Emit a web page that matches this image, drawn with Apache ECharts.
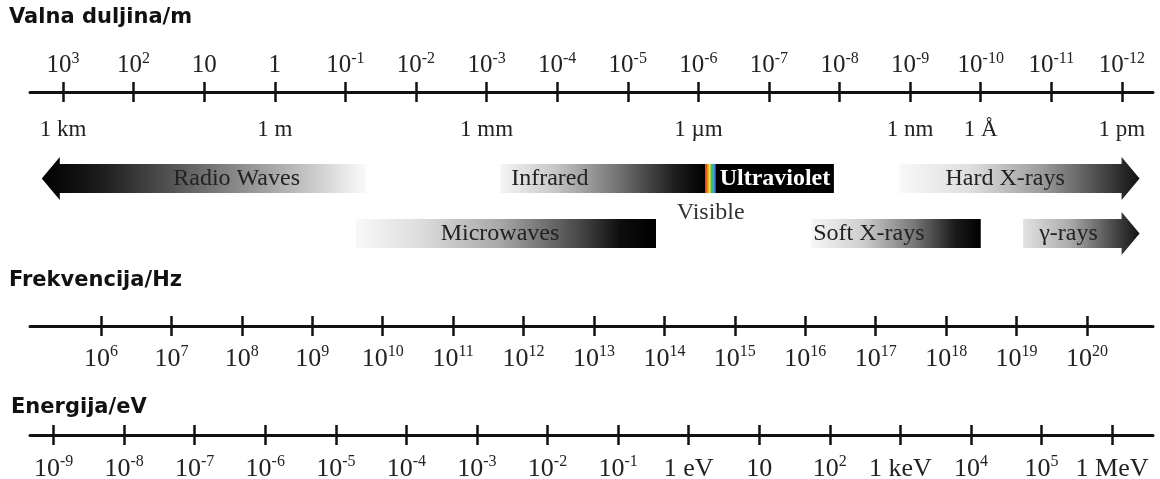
<!DOCTYPE html>
<html><head><meta charset="utf-8">
<script src="https://cdn.jsdelivr.net/npm/echarts@6/dist/echarts.min.js"></script>
<style>html,body{margin:0;padding:0;background:#fff}#c{width:1160px;height:479px}</style>
</head><body><div id="c"></div>
<script>
// ---- DATA ----
// Wavelength axis value = -log10(lambda / m)
const wavelengthTicks = [-3,-2,-1,0,1,2,3,4,5,6,7,8,9,10,11,12];
const wavelengthLabels = ['10^3','10^2','10','1','10^-1','10^-2','10^-3','10^-4','10^-5','10^-6','10^-7','10^-8','10^-9','10^-10','10^-11','10^-12'];
const unitTicks = [-3,0,3,6,9,10,12];
const unitLabels = ['1 km','1 m','1 mm','1 µm','1 nm','1 Å','1 pm'];
// Frequency axis value = log10(f / Hz)
const frequencyTicks = [6,7,8,9,10,11,12,13,14,15,16,17,18,19,20];
const frequencyLabels = ['10^6','10^7','10^8','10^9','10^10','10^11','10^12','10^13','10^14','10^15','10^16','10^17','10^18','10^19','10^20'];
// Energy axis value = log10(E / eV)
const energyTicks = [-9,-8,-7,-6,-5,-4,-3,-2,-1,0,1,2,3,4,5,6];
const energyLabels = ['10^-9','10^-8','10^-7','10^-6','10^-5','10^-4','10^-3','10^-2','10^-1','1 eV','10','10^2','1 keV','10^4','10^5','1 MeV'];
// Spectrum bands, in -log10(lambda / m)
const bandNames = ['Radio Waves','Microwaves','Infrared','Visible','Ultraviolet','Soft X-rays','Hard X-rays','γ-rays'];
const bandStart = [-3.3, 1.15, 3.2, 6.1, 6.25, 7.6, 8.85, 10.6];
const bandEnd   = [1.3, 5.4, 6.1, 6.25, 7.92, 10.0, 12.25, 12.25];
const bandRow   = [0, 1, 0, 0, 0, 1, 0, 1];
const bandShape = ['left','box','box','box','box','box','right','right'];

// ---- STYLE ----
const SERIF = 'Liberation Serif';
const bandStyle = {
  'Radio Waves': {stops:[[0,'#000'],[0.18,'#1c1c1c'],[0.4,'#545454'],[0.6,'#8a8a8a'],[0.8,'#c0c0c0'],[1,'#fbfbfb']], at:0.6, color:'#222'},
  'Microwaves': {stops:[[0,'#f8f8f8'],[0.22,'#dcdcdc'],[0.48,'#a8a8a8'],[0.75,'#454545'],[0.88,'#0e0e0e'],[1,'#000']], at:0.48, color:'#222'},
  'Infrared': {stops:[[0,'#f4f4f4'],[0.25,'#cacaca'],[0.55,'#7a7a7a'],[0.85,'#1e1e1e'],[1,'#000']], at:0.24, color:'#222'},
  'Visible': {stops:[[0,'#b03020'],[0.2,'#f08a20'],[0.4,'#f0e040'],[0.6,'#50b050'],[0.8,'#30b0d0'],[1,'#303090']], at:0.5, color:'#333', below:true},
  'Ultraviolet': {stops:[[0,'#000'],[1,'#000']], at:0.5, color:'#fff', bold:true},
  'Soft X-rays': {stops:[[0,'#f6f6f6'],[0.3,'#cfcfcf'],[0.6,'#7a7a7a'],[0.85,'#1a1a1a'],[1,'#000']], at:0.34, color:'#222'},
  'Hard X-rays': {stops:[[0,'#f8f8f8'],[0.3,'#dedede'],[0.6,'#9a9a9a'],[0.85,'#454545'],[1,'#111']], at:0.44, color:'#222'},
  'γ-rays': {stops:[[0,'#e2e2e2'],[0.4,'#ababab'],[0.8,'#444'],[1,'#111']], at:0.39, color:'#222'}
};

function supText(label){
  const k = label.indexOf('^');
  if (k < 0) return '{b|' + label + '}';
  return '{b|' + label.slice(0,k) + '}{s|' + label.slice(k+1) + '}';
}
function richFor(size){
  return {
    b:{fontFamily:SERIF, fontSize:size, lineHeight:size+4, color:'#222'},
    s:{fontFamily:SERIF, fontSize:Math.round(size*0.62), lineHeight:Math.round(size*0.62), color:'#222', verticalAlign:'top'}
  };
}
function lookup(ticks, labels){
  return function(v){ const i = ticks.findIndex(t => Math.abs(t - v) < 1e-6); return i < 0 ? '' : supText(labels[i]); };
}

const L = 30, R = 7;
const WMIN = -3.467, WMAX = 12.44;
const FMIN = 4.992, FMAX = 20.937;
const EMIN = -9.334, EMAX = 6.581;
const lineStyle = {color:'#111', width:3};
const tickStyle = {color:'#111', width:2.5};

function mainAxis(grid, min, max, ticks){
  return {type:'value', gridIndex:grid, position:'top', min, max,
    axisLine:{show:true, onZero:false, lineStyle},
    axisTick:{show:true, inside:false, length:10, lineStyle:tickStyle, customValues:ticks},
    axisLabel:{show:false}, splitLine:{show:false}};
}
function innerAxis(grid, min, max, ticks, labelTicks, labels, size, margin){
  return {type:'value', gridIndex:grid, position:'top', min, max,
    axisLine:{show:false, onZero:false},
    axisTick:{show:true, inside:true, length:10, lineStyle:tickStyle, customValues:ticks},
    axisLabel:{show:!!labels, inside:true, margin, customValues:labelTicks || ticks,
      formatter: labels ? lookup(labelTicks || ticks, labels) : '', rich:richFor(size)},
    splitLine:{show:false}};
}

const wlTop = mainAxis(0, WMIN, WMAX, wavelengthTicks);
wlTop.axisLabel = {show:true, margin:12, customValues:wavelengthTicks, formatter:lookup(wavelengthTicks, wavelengthLabels), rich:richFor(25)};

const titleStyle = {fontFamily:'DejaVu Sans', fontWeight:'bold', fontSize:21, color:'#111'};
const option = {
  backgroundColor:'#fff',
  animation:false,
  title:[
    {text:'Valna duljina/m', left:9, top:7, padding:0, textStyle:titleStyle},
    {text:'Frekvencija/Hz', left:9, top:270, padding:0, textStyle:titleStyle},
    {text:'Energija/eV', left:11, top:397, padding:0, textStyle:titleStyle}
  ],
  grid:[
    {left:L, right:R, top:92, height:40, outerBoundsMode:'none'},
    {left:L, right:R, top:151, height:110, outerBoundsMode:'none'},
    {left:L, right:R, top:326, height:30, outerBoundsMode:'none'},
    {left:L, right:R, top:435, height:30, outerBoundsMode:'none'}
  ],
  xAxis:[
    wlTop,
    innerAxis(0, WMIN, WMAX, wavelengthTicks, unitTicks, unitLabels, 23, 24),
    {type:'value', gridIndex:1, min:WMIN, max:WMAX, show:false},
    mainAxis(2, FMIN, FMAX, frequencyTicks),
    innerAxis(2, FMIN, FMAX, frequencyTicks, null, frequencyLabels, 26, 18),
    mainAxis(3, EMIN, EMAX, energyTicks),
    innerAxis(3, EMIN, EMAX, energyTicks, null, energyLabels, 26, 19)
  ],
  yAxis:[
    {type:'value', gridIndex:0, show:false},
    {type:'value', gridIndex:1, show:false, min:-0.5, max:1.5, inverse:true},
    {type:'value', gridIndex:2, show:false},
    {type:'value', gridIndex:3, show:false}
  ],
  series:[{
    type:'custom', xAxisIndex:2, yAxisIndex:1,
    data: bandStart.map((s,i) => [s, bandEnd[i], bandRow[i]]),
    encode:{x:[0,1], y:2},
    renderItem:function(params, api){
      const i = params.dataIndex;
      const name = bandNames[i], st = bandStyle[name], shape = bandShape[i];
      const p0 = api.coord([api.value(0), api.value(2)]);
      const p1 = api.coord([api.value(1), api.value(2)]);
      const rowH = api.size([0,1])[1];
      const hh = rowH*0.265, ah = rowH*0.39, head = 18;
      const y = p0[1], x0 = p0[0], x1 = p1[0];
      let pts;
      if (shape === 'left') pts = [[x0,y],[x0+head,y-ah],[x0+head,y-hh],[x1,y-hh],[x1,y+hh],[x0+head,y+hh],[x0+head,y+ah]];
      else if (shape === 'right') pts = [[x0,y-hh],[x1-head,y-hh],[x1-head,y-ah],[x1,y],[x1-head,y+ah],[x1-head,y+hh],[x0,y+hh]];
      else pts = [[x0,y-hh],[x1,y-hh],[x1,y+hh],[x0,y+hh]];
      const fill = new echarts.graphic.LinearGradient(0,0,1,0, st.stops.map(s => ({offset:s[0], color:s[1]})));
      return {type:'group', children:[
        {type:'polygon', shape:{points:pts}, style:{fill:fill}},
        {type:'text', x: x0 + (x1-x0)*st.at, y: st.below ? y + hh + 20 : y,
          style:{text:name, fill:st.color, fontFamily:SERIF, fontSize:24, fontWeight: st.bold ? 'bold' : 'normal', align:'center', verticalAlign:'middle'}}
      ]};
    }
  }]
};
const chart = echarts.init(document.getElementById('c'), null, {renderer:'canvas'});
chart.setOption(option);
</script>
</body></html>
